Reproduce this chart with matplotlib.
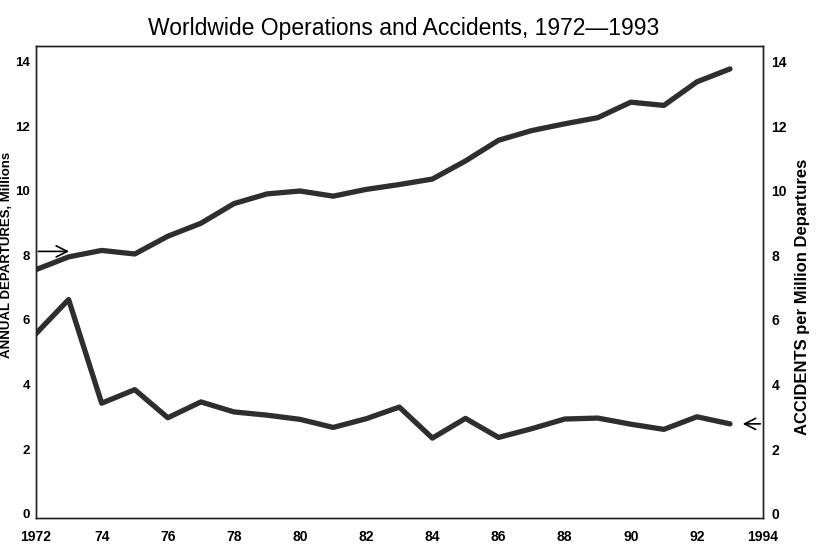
import matplotlib
matplotlib.use("Agg")
import matplotlib.pyplot as plt

plt.rcParams['font.family'] = ['Liberation Sans', 'DejaVu Sans']

years = list(range(1972, 1994))
departures = [7.55, 7.95, 8.15, 8.04, 8.59, 8.99, 9.60, 9.90, 9.99, 9.83, 10.04,
              10.19, 10.36, 10.92, 11.56, 11.86, 12.07, 12.26, 12.74, 12.64, 13.37, 13.77]
accidents = [5.56, 6.63, 3.42, 3.84, 2.97, 3.46, 3.15, 3.05, 2.92, 2.67, 2.94,
             3.30, 2.34, 2.95, 2.36, 2.63, 2.93, 2.96, 2.77, 2.61, 3.00, 2.78]

xticks = [1972, 1974, 1976, 1978, 1980, 1982, 1984, 1986, 1988, 1990, 1992, 1994]
xtick_labels = ['1972', '74', '76', '78', '80', '82', '84', '86', '88', '90', '92', '1994']
yticks = [0, 2, 4, 6, 8, 10, 12, 14]

line_color = '#2e2e2e'

fig = plt.figure(figsize=(8.17, 5.5), dpi=100)
ax = fig.add_axes([0.0435, 0.059, 0.8905, 0.858])
ax2 = ax.twinx()

ax.plot(years, departures, color=line_color, lw=3.8, solid_joinstyle='round',
        solid_capstyle='round')
ax2.plot(years, accidents, color=line_color, lw=3.8, solid_joinstyle='round',
         solid_capstyle='round')

for a in (ax, ax2):
    a.set_xlim(1972, 1994)
    a.set_ylim(-0.12, 14.49)
    a.set_yticks(yticks)
    for s in a.spines.values():
        s.set_linewidth(1.0)
        s.set_color('#222222')

ax.set_xticks(xticks)
ax.set_xticklabels(xtick_labels)
ax.tick_params(axis='both', length=0, labelsize=10)
ax.tick_params(axis='x', pad=9)
ax.tick_params(axis='y', pad=4, labelsize=9.5)
ax2.tick_params(axis='y', length=0, labelsize=10, pad=6)
for lab in ax.get_xticklabels() + ax.get_yticklabels() + ax2.get_yticklabels():
    lab.set_fontweight('bold')

# arrows telling which axis each line belongs to
ax.annotate('', xy=(1973.1, 8.12), xytext=(1972, 8.12),
            arrowprops=dict(arrowstyle='->', lw=1.2, color='black', mutation_scale=20))
ax2.annotate('', xy=(1993.3, 2.78), xytext=(1994, 2.78),
             arrowprops=dict(arrowstyle='->', lw=1.2, color='black', mutation_scale=20))

fig.text(0.494, 0.949, 'Worldwide Operations and Accidents, 1972\u20141993',
         ha='center', va='center', fontsize=16.5)
fig.text(803 / 817, 0.46, 'ACCIDENTS per Million Departures', rotation=90,
         ha='center', va='center', fontsize=12, fontweight='bold')
fig.text(1 / 817, 0.536, 'ANNUAL DEPARTURES, Millions', rotation=90,
         ha='left', va='center', fontsize=9.5, fontweight='bold')

fig.savefig('out.png', dpi=100)
